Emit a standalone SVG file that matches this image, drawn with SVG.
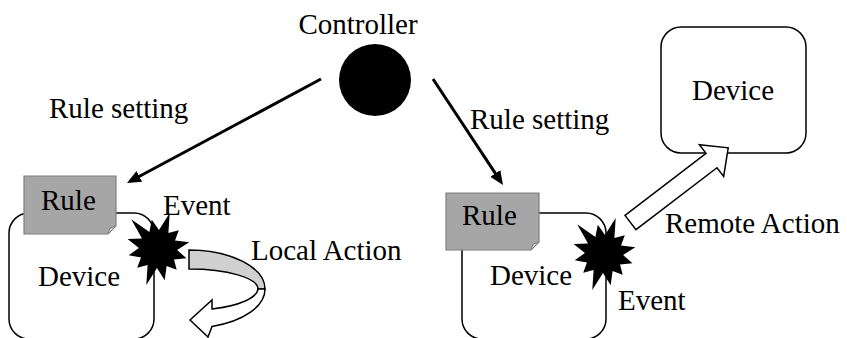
<svg xmlns="http://www.w3.org/2000/svg" xmlns:xlink="http://www.w3.org/1999/xlink" width="847" height="338" viewBox="0 0 847 338">
<style>
  text { font-family: "Liberation Serif", "Times New Roman", "DejaVu Serif", serif; font-size: 29px; fill: #000; }
  .box { fill: #fff; stroke: #000; stroke-width: 1.5; }
  .rule { fill: #a6a6a6; stroke: #7f7f7f; stroke-width: 1.2; }
  .fold { fill: #cfcfcf; stroke: #7f7f7f; stroke-width: 1; }
  .star { fill: #000; }
  .conn { stroke: #000; stroke-width: 3; fill: none; }
  .block { fill: #fff; stroke: #000; stroke-width: 1.5; stroke-linejoin: miter; }
  .band { fill: #d0d0d0; stroke: #000; stroke-width: 1.5; }
</style>
<defs>
  <marker id="ah" markerUnits="userSpaceOnUse" markerWidth="16" markerHeight="12" refX="4" refY="6" orient="auto">
    <path d="M0,0 L14,6 L0,12 Z" fill="#000"/>
  </marker>
  <path id="starShape" class="star" d="M11.7,-36.1 L10.4,-16 L20.8,-18.7 L17,-8.6 L31.3,-6.7 L19.1,1 L28.5,9.3 L16,10.4 L18.7,20.8 L8.6,17 L6.7,31.3 L-1,19.1 L-11.7,36.1 L-10.4,16 L-20.8,18.7 L-17,8.6 L-29.3,6.2 L-19.1,-1 L-30.4,-9.9 L-16,-10.4 L-26.8,-29.7 L-8.6,-17 L-6.2,-29.3 L1,-19.1 Z"/>
</defs>

<g id="controller">
  <circle cx="375" cy="80" r="36" fill="#000"/>
  <text x="358" y="34" text-anchor="middle">Controller</text>
</g>

<g id="device-left">
  <rect class="box" x="9" y="213" width="145" height="126" rx="20" ry="20"/>
  <text x="38" y="286">Device</text>
</g>
<g id="rule-left">
  <path class="rule" d="M24,176 H116 V226 L108,234 H24 Z"/>
  <path class="fold" d="M116,226 L108,234 L110,228 Z"/>
  <text x="41" y="210">Rule</text>
</g>
<g id="event-left">
  <use xlink:href="#starShape" href="#starShape" x="158" y="249"/>
  <text x="163" y="215">Event</text>
</g>

<g id="device-right">
  <rect class="box" x="462" y="213" width="144" height="126" rx="20" ry="20"/>
  <text x="490" y="285">Device</text>
</g>
<g id="rule-right">
  <path class="rule" d="M446,193 H539 V242 L531,250 H446 Z"/>
  <path class="fold" d="M539,242 L531,250 L533,244 Z"/>
  <text x="462" y="225">Rule</text>
</g>
<g id="event-right">
  <use xlink:href="#starShape" href="#starShape" x="604" y="254"/>
  <text x="618" y="310">Event</text>
</g>

<g id="device-remote">
  <rect class="box" x="661" y="27" width="145" height="126" rx="20" ry="20"/>
  <text x="733" y="100" text-anchor="middle">Device</text>
</g>

<g id="connectors">
  <line class="conn" x1="321" y1="79" x2="135.8" y2="178.3" marker-end="url(#ah)"/>
  <text x="49" y="118">Rule setting</text>
  <line class="conn" x1="433" y1="79" x2="497.5" y2="176.7" marker-end="url(#ah)"/>
  <text x="470" y="129">Rule setting</text>

  <g id="local-action">
    <path class="band" d="M189,250 A76,39 0 0 1 265,289 L258,289 A69,20 0 0 0 189,269 Z"/>
    <path class="block" d="M265,289 A76,39 0 0 1 212,326.5 L208,337 L190,320 L212,300 L212,309 A69,22 0 0 0 258,289 Z"/>
    <text x="251" y="260">Local Action</text>
  </g>

  <g id="remote-action">
    <polygon class="block" points="0,-9 102,-9 102,-20 123,0 102,20 102,9 0,9" transform="translate(630.5,222.5) rotate(-37.4)"/>
    <text x="665" y="233">Remote Action</text>
  </g>
</g>
</svg>
